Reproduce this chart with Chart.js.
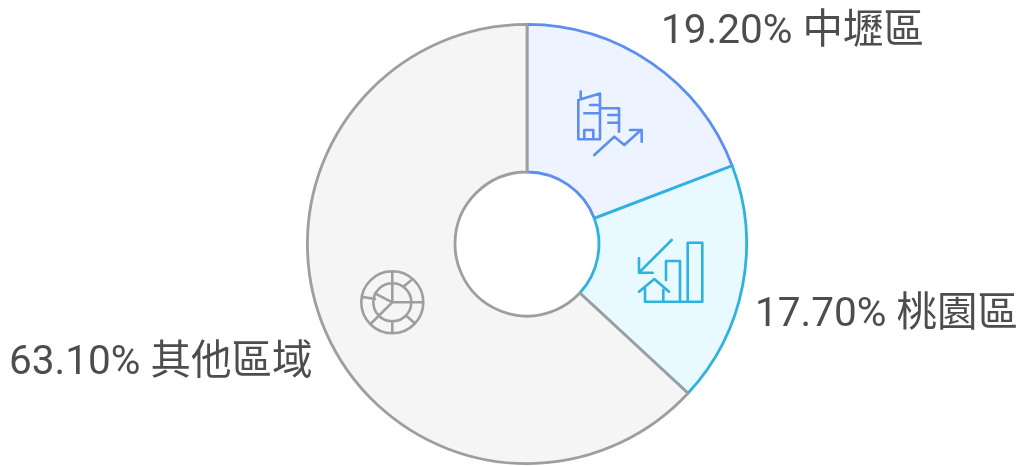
<!DOCTYPE html>
<html lang="zh-Hant">
<head>
<meta charset="utf-8">
<title>doughnut</title>
<style>
  html, body { margin: 0; padding: 0; background: #fff; }
  #wrap { width: 1021px; height: 466px; }
</style>
<script src="https://cdn.jsdelivr.net/npm/chart.js@4/dist/chart.umd.min.js"></script>
</head>
<body>
<div id="wrap"><canvas id="chart" width="1021" height="466"></canvas></div>
<script>
const categories = ['中壢區', '桃園區', '其他區域'];
const shares = [19.2, 17.7, 63.1];
const shareLabels = ['19.20%', '17.70%', '63.10%'];

const borderColors = ['#5c8ff0', '#2db3de', '#9e9e9e'];
const fillColors = ['#edf3ff', '#e8f9ff', '#f5f5f5'];

// where each text label starts (left, baseline)
const labelSpots = [[661, 43], [755, 326], [9, 374]];

// icons are plain svg paths in page coordinates
const iconPaths = [
  'M578.3 100 L600 93.5 L600 139.3 L578.3 139.3 Z M580.7 91.5 L580.7 98 M590 105 L600 105 M584.3 113.3 L600 113.3 ' +
  'M584.3 139 L584.3 130 L593.3 130 L593.3 139 M600 108.3 L619 108.3 L619 131.7 M608.3 115 L619 115 M608.3 122.7 L619 122.7 ' +
  'M594.3 155 L614.3 136.7 L624.3 145 L641 130 M630 130 L641.7 130 L641.7 141.7',
  'M671.7 240 L639 272.7 M639 258.3 L639 272.7 L652.7 272.7 M639 291.7 L654.3 279 L669 291.7 ' +
  'M645 288.3 L645 301.7 L702.3 301.7 M663.3 290 L663.3 301.7 M666 280 L666 261 L680 261 L680 301.7 ' +
  'M687.7 301.7 L687.7 242.7 L702.3 242.7 L702.3 301.7',
  'M423.3 302.3 A31 31 0 1 1 361.3 302.3 A31 31 0 1 1 423.3 302.3 Z M411.3 302.3 A19 19 0 1 1 373.3 302.3 A19 19 0 1 1 411.3 302.3 Z ' +
  'M392.3 271.5 L392.3 302.3 L423.3 302.3 M392.3 302.3 L375 293.3 M392.3 302.3 L378.5 316 M378.5 316 L370.5 324 ' +
  'M361.7 296.7 L375 299 M392.3 321.7 L392.3 333.3 M406 315.5 L415 323.5 M403.3 286.7 L412 279.5'
];

const overlay = {
  id: 'overlay',
  afterDatasetsDraw(chart) {
    const ctx = chart.ctx;
    ctx.save();
    ctx.lineWidth = 2.6;
    ctx.lineCap = 'round';
    ctx.lineJoin = 'round';
    iconPaths.forEach((d, i) => {
      ctx.strokeStyle = borderColors[i];
      ctx.stroke(new Path2D(d));
    });
    ctx.fillStyle = '#4d4d4d';
    ctx.font = '40.5px Roboto, "Noto Sans CJK TC", sans-serif';
    ctx.textAlign = 'left';
    ctx.textBaseline = 'alphabetic';
    categories.forEach((name, i) => {
      ctx.fillText(shareLabels[i] + ' ' + name, labelSpots[i][0], labelSpots[i][1]);
    });
    ctx.restore();
  }
};

new Chart(document.getElementById('chart'), {
  type: 'doughnut',
  data: {
    labels: categories,
    datasets: [{
      data: shares,
      backgroundColor: fillColors,
      borderColor: borderColors,
      borderWidth: 2.8,
      borderJoinStyle: 'round'
    }]
  },
  options: {
    responsive: false,
    animation: false,
    cutout: 72,
    layout: { padding: { left: 306, right: 273, top: 23, bottom: 1 } },
    plugins: {
      legend: { display: false },
      tooltip: { enabled: false }
    }
  },
  plugins: [overlay]
});
</script>
</body>
</html>
